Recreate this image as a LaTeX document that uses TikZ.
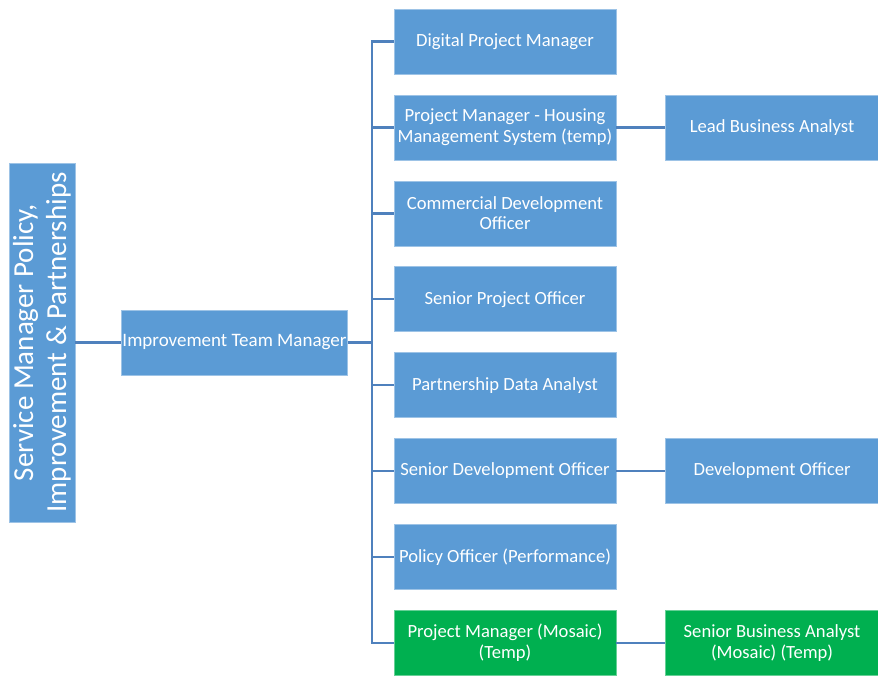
\documentclass[tikz,border=0pt]{standalone}
\usepackage{fontspec}
\setmainfont{Carlito}
\usepackage{xcolor}
\usetikzlibrary{positioning}
\definecolor{boxblue}{HTML}{5B9BD5}
\definecolor{boxgreen}{HTML}{00B050}
\definecolor{linkblue}{HTML}{4F81BD}

\begin{document}
\begin{tikzpicture}[x=1pt, y=1pt, role/.style={fill=boxblue, draw=boxblue!60!white, line width=0.6pt, text=white, align=center, font=\fontsize{18.6}{20.5}\selectfont, minimum width=222pt, minimum height=65pt, inner sep=1pt}, newrole/.style={role, fill=boxgreen, draw=boxgreen!60!white}, link/.style={draw=linkblue, line width=2.4pt}]
\useasboundingbox (0,0) rectangle (878,-675);
\node[role, rotate=90, minimum width=359pt, minimum height=66pt, font=\fontsize{29}{33}\selectfont] (svc) at (42,-342.5) {Service Manager Policy,\\Improvement \& Partnerships};
\node[role, minimum width=223pt, font=\fontsize{19}{22}\selectfont] (itm) at (234.5,-342.5) {Improvement Team Manager};
\node[role] (dpm) at (505,-41.5) {Digital Project Manager};
\node[role, below=20.3pt of dpm] (hms) {Project Manager - Housing\\Management System (temp)};
\node[role, below=20.3pt of hms] (cdo) {Commercial Development\\Officer};
\node[role, below=20.3pt of cdo] (spo) {Senior Project Officer};
\node[role, below=20.3pt of spo] (pda) {Partnership Data Analyst};
\node[role, below=20.3pt of pda] (sdo) {Senior Development Officer};
\node[role, below=20.3pt of sdo] (pop) {Policy Officer (Performance)};
\node[newrole, below=20.3pt of pop] (mos) {Project Manager (Mosaic)\\(Temp)};
\node[role, minimum width=213pt, right=49pt of hms] (lba) {Lead Business Analyst};
\node[role, minimum width=213pt, right=49pt of sdo] (dvo) {Development Officer};
\node[newrole, minimum width=213pt, right=49pt of mos] (sba) {Senior Business Analyst\\(Mosaic) (Temp)};
\draw[link] (svc) -- (itm);
\draw[link] (itm.east) -- ++(24,0) coordinate (bus);
\foreach \n in {dpm,hms,cdo,spo,pda,sdo,pop,mos}
  \draw[link] (bus) |- (\n.west);
\draw[link] (hms) -- (lba);
\draw[link] (sdo) -- (dvo);
\draw[link] (mos) -- (sba);
\end{tikzpicture}
\end{document}
